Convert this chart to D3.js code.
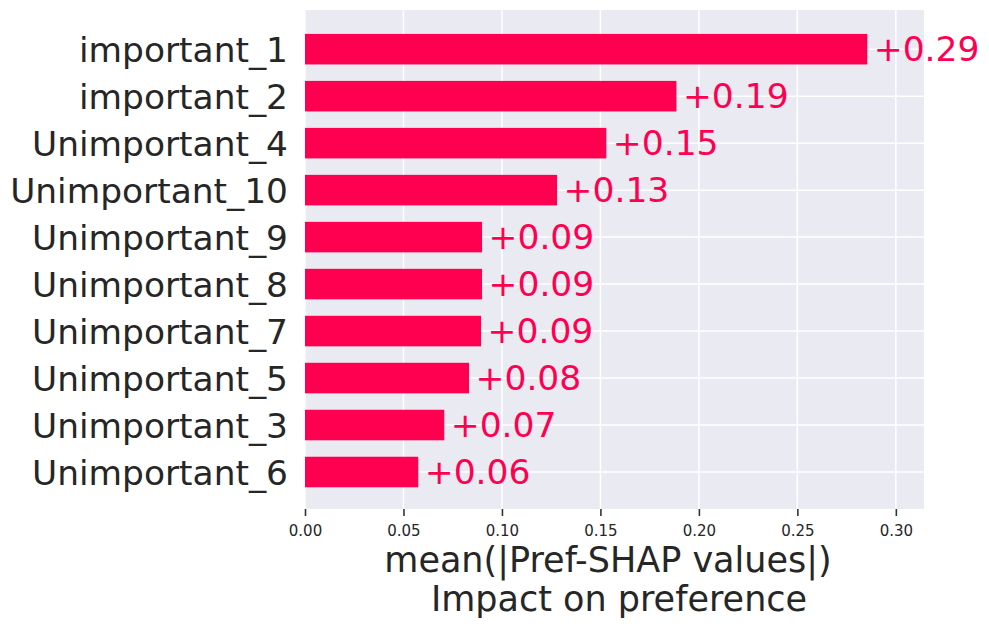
<!DOCTYPE html>
<html>
<head>
<meta charset="utf-8">
<script src="https://cdn.jsdelivr.net/npm/d3@7"></script>
<style>
  body { margin: 0; background: #fff; }
  svg { display: block; font-family: "DejaVu Sans", sans-serif; }
</style>
</head>
<body>
<svg width="989" height="629"></svg>
<script>
const width = 989, height = 629;
const svg = d3.select("svg");

// Feature names (top to bottom) and mean |Pref-SHAP| values
const features = ["important_1", "important_2", "Unimportant_4", "Unimportant_10", "Unimportant_9",
    "Unimportant_8", "Unimportant_7", "Unimportant_5", "Unimportant_3", "Unimportant_6"];
const meanShap = [0.2855, 0.1886, 0.1530, 0.1280, 0.0899, 0.0899, 0.0894, 0.0833, 0.0707, 0.0575];
const valueLabels = ["+0.29", "+0.19", "+0.15", "+0.13", "+0.09", "+0.09", "+0.09", "+0.08", "+0.07", "+0.06"];
const xTicks = [0, 0.05, 0.10, 0.15, 0.20, 0.25, 0.30];
const xTitle = ["mean(|Pref-SHAP values|)", "Impact on preference"];

const plot = { left: 305, right: 924, top: 10, bottom: 509 };
const barColor = "#ff0051";
const textColor = "#262626";

const data = features.map((f, i) => ({ name: f, value: meanShap[i], label: valueLabels[i] }));

const x = d3.scaleLinear()
    .domain([0, 0.3143])
    .range([plot.left, plot.right]);

const y = d3.scaleBand()
    .domain(features)
    .range([25.7, 495.5])
    .paddingInner(0.35)
    .paddingOuter(0.175);

// plot background
svg.append("rect")
    .attr("x", plot.left)
    .attr("y", plot.top)
    .attr("width", plot.right - plot.left)
    .attr("height", plot.bottom - plot.top)
    .attr("fill", "#eaeaf2");

// vertical grid lines
svg.append("g")
    .selectAll("line")
    .data(xTicks)
    .enter().append("line")
    .attr("x1", d => x(d)).attr("x2", d => x(d))
    .attr("y1", plot.top).attr("y2", plot.bottom)
    .attr("stroke", "#fff")
    .attr("stroke-width", 1.5);

// horizontal grid lines at each category
svg.append("g")
    .selectAll("line")
    .data(features)
    .enter().append("line")
    .attr("x1", plot.left).attr("x2", plot.right)
    .attr("y1", d => y(d) + y.bandwidth() / 2)
    .attr("y2", d => y(d) + y.bandwidth() / 2)
    .attr("stroke", "#fff")
    .attr("stroke-width", 1.5);

// bars
svg.selectAll(".bar")
    .data(data)
    .enter().append("rect")
    .attr("class", "bar")
    .attr("x", x(0))
    .attr("y", d => y(d.name))
    .attr("width", d => x(d.value) - x(0))
    .attr("height", y.bandwidth())
    .attr("fill", barColor);

// value labels
svg.selectAll(".val")
    .data(data)
    .enter().append("text")
    .attr("class", "val")
    .attr("x", d => x(d.value) + 6.5)
    .attr("y", d => y(d.name) + y.bandwidth() / 2 + 11.5)
    .attr("fill", barColor)
    .style("font-size", "34.5px")
    .text(d => d.label);

// category labels
svg.selectAll(".cat")
    .data(features)
    .enter().append("text")
    .attr("class", "cat")
    .attr("x", plot.left - 17)
    .attr("y", d => y(d) + y.bandwidth() / 2 + 12.5)
    .attr("text-anchor", "end")
    .attr("fill", textColor)
    .style("font-size", "34.4px")
    .text(d => d);

// x axis
const xAxis = svg.append("g")
    .attr("transform", `translate(0,${plot.bottom})`)
    .call(d3.axisBottom(x).tickValues(xTicks).tickFormat(d3.format(".2f")).tickSize(7).tickPadding(9));
xAxis.select(".domain").remove();
xAxis.selectAll(".tick line").attr("stroke", "#333").attr("stroke-width", 1.6);
xAxis.selectAll(".tick text")
    .attr("fill", textColor)
    .style("font-size", "15px")
    .style("font-family", "DejaVu Sans");

// axis title (two lines)
svg.append("text")
    .attr("x", 608)
    .attr("y", 571.5)
    .attr("text-anchor", "middle")
    .attr("fill", textColor)
    .style("font-size", "35px")
    .text(xTitle[0]);

svg.append("text")
    .attr("x", 619)
    .attr("y", 611)
    .attr("text-anchor", "middle")
    .attr("fill", textColor)
    .style("font-size", "35px")
    .text(xTitle[1]);
</script>
</body>
</html>
